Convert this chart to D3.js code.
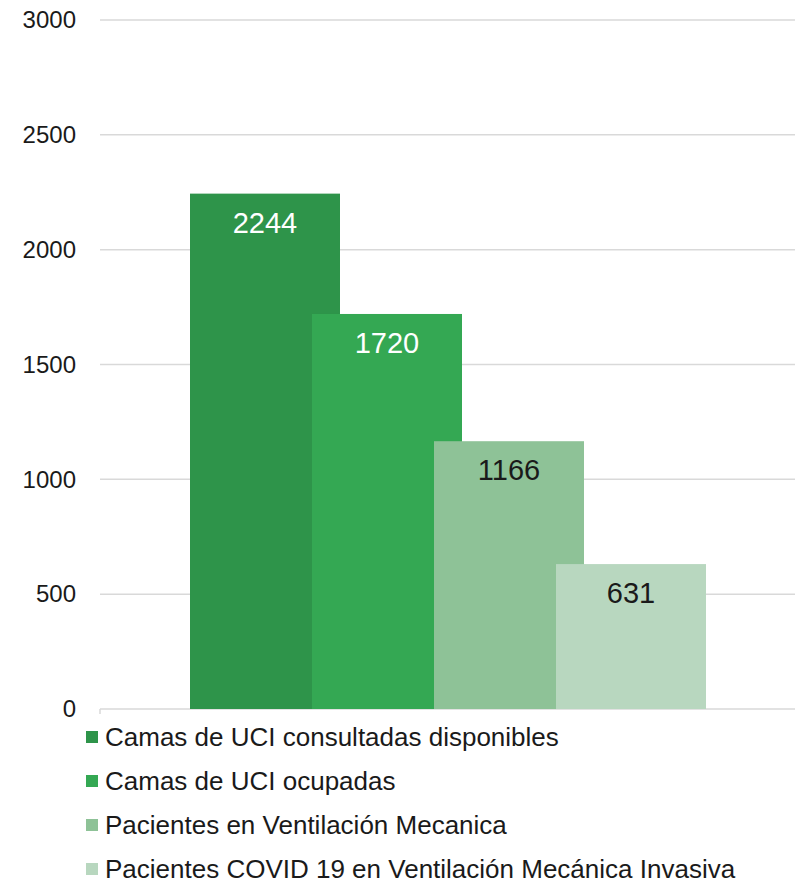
<html>
<head>
<meta charset="utf-8">
<script src="https://d3js.org/d3.v7.min.js"></script>
<style>
  body { margin: 0; background: #fff; }
  text { font-family: "Liberation Sans", Arial, sans-serif; }
</style>
</head>
<body>
<script>
// data
var series = ["Camas de UCI consultadas disponibles", "Camas de UCI ocupadas",
              "Pacientes en Ventilación Mecanica", "Pacientes COVID 19 en Ventilación Mecánica Invasiva"];
var values = [2244, 1720, 1166, 631];
var colors = ["#2e944a", "#34a853", "#8ec297", "#b8d7bf"];
var labelColors = ["#ffffff", "#ffffff", "#1a1a1a", "#1a1a1a"];
var yTicks = [0, 500, 1000, 1500, 2000, 2500, 3000];

var w = 797, h = 884;

var svg = d3.select("body").append("svg")
  .attr("width", w)
  .attr("height", h);

// scales
var y = d3.scaleLinear().domain([0, 3000]).range([709, 20]);
var x = d3.scaleBand().domain(series).range([190, 678]).padding(0);
var overlap = 28; // bars are wider than their step, so they overlap

// gridlines
svg.append("g")
  .selectAll("line")
  .data(yTicks)
  .enter()
  .append("line")
  .attr("x1", 100)
  .attr("x2", 795)
  .attr("y1", function(d) { return y(d); })
  .attr("y2", function(d) { return y(d); })
  .attr("stroke", "#d9d9d9")
  .attr("stroke-width", 1.5);

// small tick at the bottom left of the axis
svg.append("line")
  .attr("x1", 100).attr("x2", 100)
  .attr("y1", y(0)).attr("y2", y(0) + 5)
  .attr("stroke", "#d9d9d9")
  .attr("stroke-width", 1.5);

// y axis labels
var yAxis = d3.axisLeft(y).tickValues(yTicks).tickFormat(d3.format("d")).tickSize(0).tickPadding(0);
var yg = svg.append("g")
  .attr("transform", "translate(76,0)")
  .call(yAxis);
yg.select(".domain").remove();
yg.selectAll("text")
  .attr("font-size", 24)
  .attr("font-family", "'Liberation Sans', Arial, sans-serif")
  .attr("fill", "#1a1a1a");

// bars
svg.selectAll("rect.bar")
  .data(values)
  .enter()
  .append("rect")
  .attr("class", "bar")
  .attr("x", function(d, i) { return x(series[i]); })
  .attr("width", x.bandwidth() + overlap)
  .attr("y", function(d) { return y(d); })
  .attr("height", function(d) { return y(0) - y(d); })
  .attr("fill", function(d, i) { return colors[i]; });

// value labels
svg.selectAll("text.val")
  .data(values)
  .enter()
  .append("text")
  .attr("class", "val")
  .attr("x", function(d, i) { return x(series[i]) + (x.bandwidth() + overlap) / 2; })
  .attr("y", function(d) { return y(d) + 39; })
  .attr("text-anchor", "middle")
  .attr("font-size", 29)
  .attr("fill", function(d, i) { return labelColors[i]; })
  .text(function(d) { return d; });

// legend
var legend = svg.append("g")
  .selectAll("g")
  .data(series)
  .enter()
  .append("g")
  .attr("transform", function(d, i) { return "translate(86," + (737 + i * 44) + ")"; });

legend.append("rect")
  .attr("x", 0)
  .attr("y", -6)
  .attr("width", 12)
  .attr("height", 12)
  .attr("fill", function(d, i) { return colors[i]; });

legend.append("text")
  .attr("x", 19)
  .attr("y", 0)
  .attr("dy", "0.36em")
  .attr("font-size", 26)
  .attr("fill", "#1a1a1a")
  .text(function(d) { return d; });
</script>
</body>
</html>
